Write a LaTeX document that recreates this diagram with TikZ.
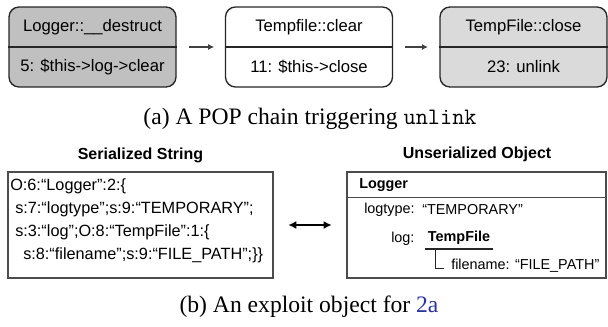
\documentclass[tikz,border=0pt]{standalone}
\usepackage{fontspec}
\setmainfont{Liberation Serif}
\newfontfamily\arialfont{Liberation Sans}
\usetikzlibrary{arrows.meta}

\definecolor{destructgray}{RGB}{192,192,192}
\definecolor{closegray}{RGB}{218,218,218}
\definecolor{linkblue}{RGB}{40,50,160}

\tikzset{
  fnbox/.style={draw=black!85, line width=1pt, rounded corners=7.5pt,
    minimum width=125.25pt, minimum height=60pt, inner sep=0pt},
  fnlabel/.style={font=\arialfont\fontsize{12.5}{15}\selectfont, inner sep=0pt},
  chainarrow/.style={-{Latex[length=4.5pt,width=4.5pt]}, line width=1pt, black!75},
  objbox/.style={draw=black!70, line width=0.9pt, inner sep=0pt},
  serialtext/.style={font=\arialfont\fontsize{12.2}{14}\selectfont, inner sep=0pt, anchor=west},
  objtext/.style={font=\arialfont\fontsize{10.8}{13}\selectfont, inner sep=0pt, anchor=west},
  objtitle/.style={font=\arialfont\bfseries\fontsize{12}{14}\selectfont, inner sep=0pt},
  caption/.style={font=\fontsize{17.7}{20}\selectfont, inner sep=0pt},
}

\begin{document}
\begin{tikzpicture}[x=0.75pt, y=-0.75pt]
  \useasboundingbox (0,0) rectangle (608,326);

  % (a) the chain
  \node[fnbox, fill=destructgray] (destruct) at (92.5,47) {};
  \node[fnbox, fill=white] (clear) at (309,47) {};
  \node[fnbox, fill=closegray] (close) at (523.5,47) {};
  \draw[black!85, line width=1pt] (destruct.west) -- (destruct.east);
  \draw[black!85, line width=1pt] (clear.west) -- (clear.east);
  \draw[black!85, line width=1pt] (close.west) -- (close.east);

  \node[fnlabel] (destructname) at (92.5,27) {Logger::\_\_destruct};
  \node[fnlabel] (destructline) at (92.5,67) {5: \$this->log->clear};
  \node[fnlabel] (clearname) at (309,27) {Tempfile::clear};
  \node[fnlabel] (clearline) at (309,67) {11: \$this->close};
  \node[fnlabel] (closename) at (523.5,27) {TempFile::close};
  \node[fnlabel] (closeline) at (523.5,67) {23: unlink};

  \draw[chainarrow, shorten <=9.5pt, shorten >=8pt] (destruct) -- (clear);
  \draw[chainarrow, shorten <=9pt, shorten >=8.5pt] (clear) -- (close);

  \node[caption] (capa) at (310,119) {(a) A POP chain triggering \texttt{unlink}};

  % (b) the object
  \node[objtitle] (serialtitle) at (140.5,155) {Serialized String};
  \node[objtitle] (unserialtitle) at (477,154) {Unserialized Object};

  \node[objbox, minimum width=198.75pt, minimum height=79.5pt] (serial) at (140.5,225) {};
  \node[serialtext] (serial1) at (10,186) {O:6:“Logger”:2:\{};
  \node[serialtext] (serial2) at (15,209) {s:7:“logtype”;s:9:“TEMPORARY”;};
  \node[serialtext] (serial3) at (15,232) {s:3:“log”;O:8:“TempFile”:1:\{};
  \node[serialtext] (serial4) at (23,255) {s:8:“filename”;s:9:“FILE\_PATH”;\}\}};

  \node[objbox, minimum width=194.25pt, minimum height=79.5pt] (unserial) at (476.5,225) {};
  \draw[black!70, line width=0.9pt] ([yshift=-19.5pt]unserial.north west) -- ([yshift=-19.5pt]unserial.north east);
  \node[objtext, font=\arialfont\bfseries\fontsize{10.8}{13}\selectfont] (logger) at (359,185) {Logger};
  \node[objtext] (logtype) at (364,210) {logtype:};
  \node[objtext] (temporary) at (422,210) {“TEMPORARY”};
  \node[objtext] (log) at (391,239) {log:};
  \node[objtext, font=\arialfont\bfseries\fontsize{10.8}{13}\selectfont, inner xsep=2pt, inner ysep=3pt] (tempfile) at (425,238) {TempFile};
  \node[objtext] (filename) at (451,266) {filename: “FILE\_PATH”};
  \draw[black!85, line width=0.8pt] (tempfile.south west) -- (tempfile.south east);
  \draw[black!85, line width=0.8pt] ([xshift=8pt]tempfile.south west) |- ([xshift=-5pt,yshift=-2pt]filename.west);

  \draw[{Latex[length=6pt,width=6pt]}-{Latex[length=6pt,width=6pt]}, line width=1.5pt,
    shorten <=11pt, shorten >=11pt] (serial) -- (unserial);

  \node[caption] (capb) at (309,307) {(b) An exploit object for \textcolor{linkblue}{2a}};
\end{tikzpicture}
\end{document}
